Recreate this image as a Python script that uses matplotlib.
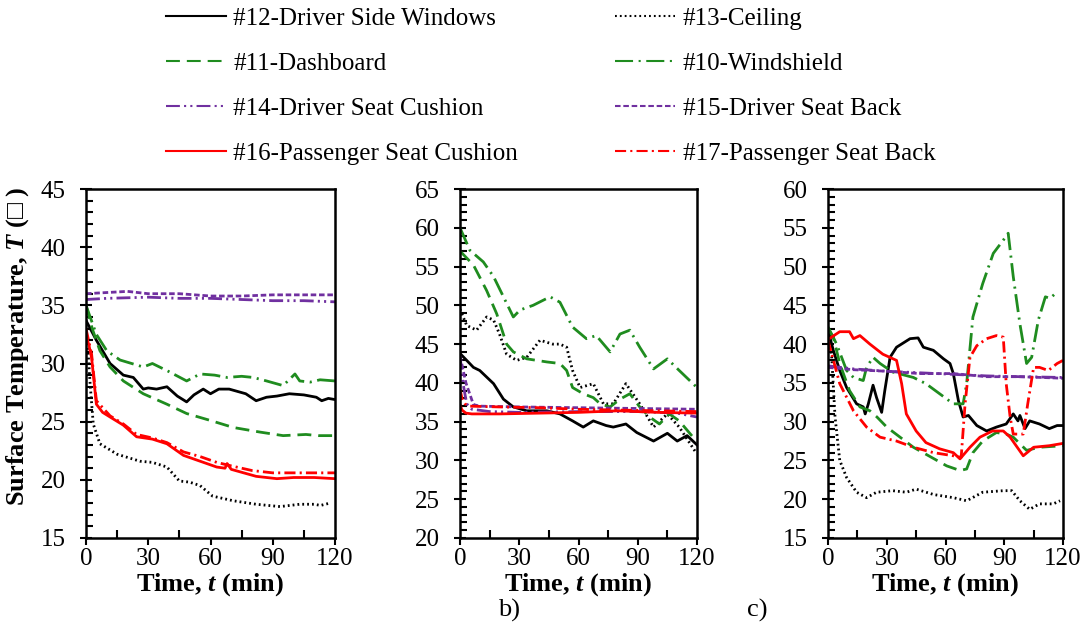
import matplotlib
matplotlib.use("Agg")
import matplotlib.pyplot as plt
from matplotlib.ticker import MultipleLocator
from matplotlib.lines import Line2D

plt.rcParams['font.family'] = ['Liberation Serif', 'DejaVu Serif']
plt.rcParams['mathtext.fontset'] = 'custom'
plt.rcParams['mathtext.rm'] = 'Liberation Serif:bold'
plt.rcParams['mathtext.it'] = 'Liberation Serif:bold:italic'
plt.rcParams['lines.scale_dashes'] = False

# ---- panel a) ----
t12_a = [0, 5, 11.6, 18, 22.8, 27.6, 30, 34, 39, 44, 48.5, 52, 56.5, 60, 64, 69, 77, 82, 87, 92, 98, 105, 111, 113.6, 116.8, 120]
v12_a = [33.7, 32.0, 30.0, 29.0, 28.8, 27.8, 27.9, 27.8, 28.0, 27.2, 26.7, 27.3, 27.8, 27.4, 27.8, 27.8, 27.4, 26.8, 27.1, 27.2, 27.4, 27.3, 27.1, 26.8, 27.0, 26.9]
t13_a = [0, 1, 2, 3.5, 6.7, 15, 26, 32, 39, 45, 50, 55, 61, 71, 82, 93.5, 103, 110, 113, 117.6]
v13_a = [33, 31, 28.2, 24.8, 23.1, 22.2, 21.6, 21.5, 21.1, 19.9, 19.8, 19.5, 18.6, 18.2, 17.9, 17.7, 17.9, 17.9, 17.8, 18.0]
t11_a = [0, 3, 6.7, 11.6, 18, 27.6, 39, 48.5, 60, 71, 84, 95, 106, 112, 120]
v11_a = [35, 33, 31.1, 29.7, 28.5, 27.4, 26.5, 25.7, 25.1, 24.5, 24.1, 23.8, 23.9, 23.8, 23.8]
t10_a = [0, 5, 10, 16.4, 22, 27.6, 32, 40, 48.5, 55, 62, 68, 75, 80.6, 87, 95, 100.7, 103, 108, 112.8, 120]
v10_a = [35, 32.5, 31.1, 30.3, 30.0, 29.7, 30.0, 29.3, 28.5, 29.1, 29.0, 28.8, 28.9, 28.8, 28.5, 28.1, 29.1, 28.5, 28.4, 28.6, 28.5]
t14_a = [0, 10, 30, 45, 60, 75, 90, 105, 120]
v14_a = [35.5, 35.6, 35.7, 35.6, 35.6, 35.5, 35.4, 35.4, 35.3]
t15_a = [0, 10, 20, 30, 45, 60, 75, 90, 105, 120]
v15_a = [36.0, 36.1, 36.2, 36.0, 36.0, 35.8, 35.8, 35.9, 35.9, 35.9]
t16_a = [0, 1.5, 2.7, 5, 8, 11.6, 18, 24.4, 32, 39, 47, 55, 63, 67, 68, 70, 76, 82, 92, 100, 110, 120]
v16_a = [32.5, 31.5, 30.5, 26.5, 25.8, 25.4, 24.7, 23.7, 23.5, 23.1, 22.1, 21.6, 21.1, 21.0, 21.4, 20.9, 20.6, 20.3, 20.1, 20.2, 20.2, 20.1]
t17_a = [0, 2.7, 5, 11.6, 18, 24.4, 32, 39, 47, 55, 63, 70, 80, 90, 100, 110, 120]
v17_a = [33, 30.8, 26.8, 25.5, 24.8, 23.9, 23.6, 23.2, 22.4, 22.0, 21.5, 21.2, 20.8, 20.6, 20.6, 20.6, 20.6]

# ---- panel b) ----
t12_b = [0, 6.8, 10, 17, 22, 27, 33.8, 44, 50.6, 57, 62.4, 67.5, 74, 77.6, 84, 89.5, 98, 105, 110, 115, 120]
v12_b = [43.8, 42.0, 41.6, 39.9, 37.9, 36.9, 36.4, 36.4, 36.0, 35.1, 34.3, 35.1, 34.5, 34.3, 34.7, 33.6, 32.5, 33.5, 32.5, 33.2, 32.0]
t13_b = [0, 3.4, 8.4, 13.5, 17, 20, 23.6, 28.7, 33.8, 40.5, 47, 50.6, 54, 57, 60.8, 67.5, 72.6, 77.6, 84, 91, 98, 105, 111, 119]
v13_b = [49.5, 47.4, 46.8, 48.5, 48.1, 46.3, 43.7, 42.9, 43.3, 45.5, 45.0, 45.0, 44.6, 41.6, 39.4, 39.9, 37.3, 37.3, 39.9, 37.3, 34.3, 36.0, 34.3, 31.2]
t11_b = [0, 6.8, 13.5, 18.6, 23.6, 27, 33.8, 44, 50.6, 54, 57, 62.4, 67.5, 71, 76, 81, 86, 91, 96, 101, 106, 111, 118, 120]
v11_b = [57, 55.2, 51.9, 48.9, 45.0, 44.0, 43.1, 42.7, 42.5, 41.6, 39.4, 38.6, 38.1, 37.3, 36.9, 37.9, 38.6, 36.9, 35.6, 34.7, 36.0, 35.1, 33.0, 32.5]
t10_b = [0, 5, 11.8, 17, 22, 27, 30.4, 37, 45.6, 50.6, 57, 64, 69, 76, 81, 86, 91, 98, 105, 111, 120]
v10_b = [60, 57.1, 55.6, 53.7, 51.1, 48.5, 49.4, 50.0, 51.1, 50.4, 47.2, 45.7, 46.1, 44.0, 46.3, 46.8, 44.6, 41.8, 43.1, 41.6, 39.4]
t14_b = [0, 1.5, 3.4, 6, 15, 30, 60, 90, 110, 120]
v14_b = [43.5, 40, 37.3, 36.6, 36.3, 36.2, 36.3, 36.3, 36.1, 35.6]
t15_b = [0, 3, 6.8, 10, 30, 60, 90, 120]
v15_b = [43.5, 40, 37.2, 37.0, 36.9, 36.8, 36.7, 36.6]
t16_b = [0, 1, 3, 6, 20, 40, 60, 80, 100, 120]
v16_b = [37.2, 36.5, 36.1, 36.0, 36.0, 36.1, 36.2, 36.4, 36.2, 36.1]
t17_b = [0, 1, 2.5, 5, 20, 40, 60, 80, 100, 120]
v17_b = [39.2, 38.0, 37.3, 37.0, 36.9, 36.8, 36.6, 36.5, 36.4, 36.3]

# ---- panel c) ----
t12_c = [0, 2.7, 6, 9.5, 14.6, 18, 19, 20.6, 23, 24.8, 27.4, 29, 31.7, 35, 41.9, 46, 48.7, 53.8, 59, 62.3, 64, 66.6, 69, 71.7, 76, 81, 86, 91, 94.6, 97, 98, 100.6, 103, 108, 113, 117, 120]
v12_c = [41.8, 39.2, 36.6, 34.4, 32.3, 31.9, 31.0, 32.3, 34.7, 33.1, 31.2, 34.0, 38.3, 39.6, 40.7, 40.8, 39.6, 39.2, 38.1, 37.5, 36.2, 32.7, 30.6, 30.8, 29.5, 28.8, 29.3, 29.7, 31.0, 30.1, 30.8, 29.1, 30.1, 29.7, 29.1, 29.5, 29.5]
t13_c = [0, 1.9, 3.6, 6, 9.5, 14.6, 19.7, 24.8, 33, 40, 45, 54, 64, 70.8, 79, 89.5, 93.8, 98, 103, 108, 115, 118.5]
v13_c = [41.5, 38.3, 30.6, 25.0, 22.8, 20.9, 20.2, 20.9, 21.1, 20.9, 21.3, 20.6, 20.2, 19.8, 20.9, 21.1, 21.1, 19.8, 18.7, 19.4, 19.4, 19.8]
t11_c = [0, 2.7, 6, 11, 16.3, 21.4, 25, 30, 36.8, 43.6, 50, 60.6, 67.4, 70.8, 74, 79, 86, 91, 94.6, 101.4, 108, 120]
v11_c = [42.0, 40.9, 37.5, 34.0, 31.9, 31.4, 30.6, 29.3, 28.0, 26.7, 25.8, 24.3, 23.7, 23.9, 26.0, 27.5, 28.6, 28.4, 28.0, 26.3, 26.7, 26.9]
t10_c = [0, 4.4, 9.5, 13, 18, 19.7, 23, 26.6, 33, 43.6, 50, 57, 64, 69, 70.8, 74, 79, 84.4, 89.5, 92, 94.6, 98, 101.4, 104, 107.4, 111, 113.4, 116]
v10_c = [42.2, 40.0, 36.6, 35.7, 35.3, 37.0, 38.3, 37.5, 36.4, 35.7, 34.9, 33.6, 32.3, 32.3, 34.9, 43.5, 47.8, 51.7, 53.4, 54.3, 48.7, 42.6, 37.5, 38.3, 43.1, 46.1, 45.9, 46.5]
t14_c = [0, 13, 30, 47, 64, 81, 98, 120]
v14_c = [37.2, 36.8, 36.5, 36.3, 36.1, 35.9, 35.8, 35.7]
t15_c = [0, 13, 30, 47, 64, 81, 98, 120]
v15_c = [37.0, 36.7, 36.5, 36.2, 36.2, 35.8, 35.8, 35.6]
t16_c = [0, 6, 11, 13, 16.3, 21.4, 28, 35, 37.6, 40, 45, 50, 57, 64, 67.4, 72.5, 77.6, 84, 89.5, 93, 99.7, 105, 113, 120]
v16_c = [40.6, 41.6, 41.6, 40.7, 41.1, 40.0, 38.7, 37.9, 34.9, 31.0, 28.8, 27.3, 26.5, 26.0, 25.2, 26.7, 28.0, 28.8, 28.8, 28.0, 25.6, 26.7, 26.9, 27.2]
t17_c = [0, 6, 13, 19.7, 26.6, 35, 43.6, 54, 64, 68, 70, 72.5, 76, 81, 86, 89.5, 91, 93, 94.6, 99.7, 102, 105, 108, 112.5, 117, 120]
v17_c = [40.5, 34.9, 31.4, 29.3, 28.0, 27.5, 26.7, 26.0, 25.6, 25.4, 32.3, 38.3, 39.8, 40.7, 41.1, 40.9, 34.9, 30.6, 28.4, 28.4, 32.3, 37.0, 37.0, 36.6, 37.5, 37.9]

labels = ["#12-Driver Side Windows", "#13-Ceiling", "#11-Dashboard", "#10-Windshield",
          "#14-Driver Seat Cushion", "#15-Driver Seat Back",
          "#16-Passenger Seat Cushion", "#17-Passenger Seat Back"]

GREEN = '#1f8c1f'
PURPLE = '#7030a0'
RED = '#ff0000'
styles = {
    12: dict(color='black', ls='-'),
    13: dict(color='black', ls=(0, (1.3, 2.2))),
    11: dict(color=GREEN, ls=(0, (10, 5))),
    10: dict(color=GREEN, ls=(0, (13, 4, 1.5, 4))),
    14: dict(color=PURPLE, ls=(0, (10, 3, 1.5, 3, 1.5, 3))),
    15: dict(color=PURPLE, ls=(0, (4, 2))),
    16: dict(color=RED, ls='-'),
    17: dict(color=RED, ls=(0, (8, 3, 1.5, 3))),
}

fig = plt.figure(figsize=(10.83, 6.38), dpi=100)
W, H = 1083., 638.
boxes = [(86, 335), (460, 697), (828, 1063)]
ylims = [(15, 45), (20, 65), (15, 60)]
panels = [
    [(12, t12_a, v12_a), (13, t13_a, v13_a), (11, t11_a, v11_a), (10, t10_a, v10_a),
     (14, t14_a, v14_a), (15, t15_a, v15_a), (16, t16_a, v16_a), (17, t17_a, v17_a)],
    [(12, t12_b, v12_b), (13, t13_b, v13_b), (11, t11_b, v11_b), (10, t10_b, v10_b),
     (14, t14_b, v14_b), (15, t15_b, v15_b), (16, t16_b, v16_b), (17, t17_b, v17_b)],
    [(12, t12_c, v12_c), (13, t13_c, v13_c), (11, t11_c, v11_c), (10, t10_c, v10_c),
     (14, t14_c, v14_c), (15, t15_c, v15_c), (16, t16_c, v16_c), (17, t17_c, v17_c)],
]

axes = []
for (x0, x1), yl, series in zip(boxes, ylims, panels):
    ax = fig.add_axes([x0 / W, 1 - 538 / H, (x1 - x0) / W, (538 - 189) / H])
    for key, t, v in series:
        ax.plot(t, v, lw=2.0, **styles[key])
    ax.set_xlim(0, 120)
    ax.set_ylim(*yl)
    ax.xaxis.set_major_locator(MultipleLocator(30))
    ax.xaxis.set_minor_locator(MultipleLocator(15))
    ax.yaxis.set_major_locator(MultipleLocator(5))
    ax.yaxis.set_minor_locator(MultipleLocator(1))
    ax.tick_params(axis='x', which='major', direction='out', length=5, width=1.5, labelsize=18, pad=2)
    ax.tick_params(axis='x', which='minor', direction='in', length=6, width=1.5)
    ax.tick_params(axis='y', which='major', direction='inout', length=9, width=1.5, labelsize=18, pad=10)
    ax.tick_params(axis='y', which='minor', direction='in', length=5, width=1.5)
    for sp in ax.spines.values():
        sp.set_linewidth(1.8)
    ax.set_xlabel("Time, $t$ (min)", fontsize=19, fontweight='bold', labelpad=1)
    axes.append(ax)

axes[0].set_ylabel("Surface Temperature, $T$ (\u25a1 )", fontsize=19, fontweight='bold')
axes[0].yaxis.set_label_coords(-0.22, 0.55)

fig.text(509 / W, 1 - 610 / H, "b)", fontsize=19, ha='center', va='center')
fig.text(757 / W, 1 - 610 / H, "c)", fontsize=19, ha='center', va='center')

# legend, column-major order
order = [12, 11, 14, 16, 13, 10, 15, 17]
names = dict(zip([12, 13, 11, 10, 14, 15, 16, 17], labels))
handles = [Line2D([], [], lw=1.5, **styles[k]) for k in order]
fig.legend(handles, [names[k] for k in order], ncol=2, loc='upper left',
           bbox_to_anchor=(163 / W, 1 - 5 / H), frameon=False, fontsize=18,
           handlelength=2.4, handletextpad=0.3, labelspacing=0.9, columnspacing=3.9,
           borderaxespad=0.0, borderpad=0.1)

fig.savefig("out.png", dpi=100)
